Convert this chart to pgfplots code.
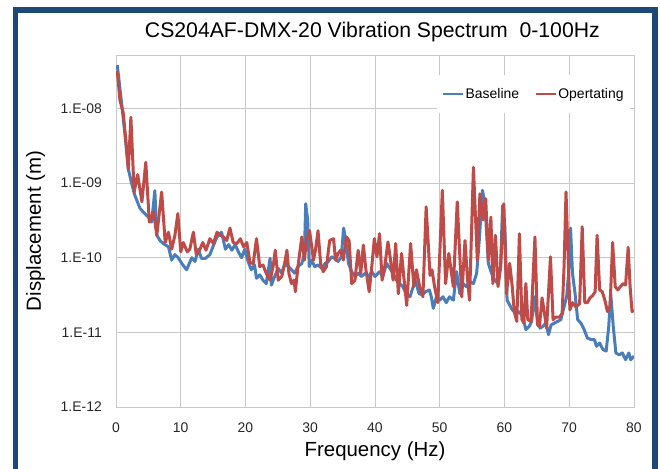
\documentclass[border=0pt]{standalone}
\usepackage{fontspec}
\setmainfont{Liberation Sans}
\usepackage{pgfplots}
\pgfplotsset{compat=1.18}

\definecolor{frameblue}{RGB}{27,72,118}
\definecolor{baseblue}{RGB}{74,126,187}
\definecolor{operred}{RGB}{190,75,72}
\definecolor{gridgray}{RGB}{200,200,200}

\begin{document}
\begin{tikzpicture}
  \useasboundingbox (0,0) rectangle (660bp,469bp);
  % dark blue frame, open at the bottom
  \draw[line width=5.5bp, color=frameblue] (15.5bp,-10bp) -- (15.5bp,459bp) -- (655bp,459bp) -- (655bp,-10bp);

  \begin{axis}[
      at={(116bp,62bp)}, anchor=south west,
      scale only axis, width=518bp, height=352bp,
      xmin=0, xmax=80, ymode=log, ymin=1e-12, ymax=5.2e-8,
      xtick={0,10,...,80},
      ytick={1e-12,1e-11,1e-10,1e-9,1e-8},
      yticklabels={1.E-12,1.E-11,1.E-10,1.E-09,1.E-08},
      yminorticks=false,
      /pgf/number format/assume math mode=true,
      major tick length=0pt, minor tick length=0pt,
      grid=major, major grid style={gridgray, line width=0.8bp},
      axis line style={gridgray, line width=0.8bp},
      tick label style={font=\fontsize{14}{16}\selectfont, color=black!85},
      xticklabel style={anchor=base, inner sep=0pt, yshift=-25bp},
      yticklabel style={anchor=east, inner sep=0pt, xshift=-14bp},
      title={CS204AF-DMX-20 Vibration Spectrum\ \ 0-100Hz},
      title style={at={(0.495,1)}, anchor=base, yshift=12bp, font=\fontsize{21.3}{24}\selectfont},
      xlabel={Frequency (Hz)},
      xlabel style={at={(axis description cs:0.5,-0.125)}, anchor=center, font=\fontsize{20.5}{24}\selectfont},
      ylabel={Displacement (m)},
      ylabel style={at={(axis description cs:-0.155,0.5)}, anchor=center, font=\fontsize{20.5}{24}\selectfont},
      legend style={at={(0.806,0.889)}, anchor=center, draw=none, fill=white,
        legend columns=2, font=\fontsize{14}{16}\selectfont,
        inner xsep=5bp, inner ysep=12bp, nodes={inner sep=1.5bp},
        /tikz/every even column/.append style={column sep=14bp}},
      legend image code/.code={\draw[#1, line width=2.2bp] (0bp,0bp) -- (20bp,0bp);},
      every axis plot/.append style={line width=3bp, line join=round},
    ]
    \addplot[baseblue] coordinates {
      (0.2,3.8e-8) (0.9,1.1e-8) (1.4,4.4e-9) (1.9,1.55e-9) (2.4,1.0e-9) (2.9,6.9e-10)
      (3.7,4.6e-10) (4.2,4.1e-10) (5.0,3.5e-10) (5.5,3.0e-10) (6.0,7.9e-10) (6.3,2.0e-10)
      (6.8,1.7e-10) (7.3,1.55e-10) (8.1,1.4e-10) (8.6,9.3e-11) (9.1,1.1e-10) (9.6,1.0e-10)
      (10.2,8.3e-11) (10.9,6.9e-11) (11.7,1.0e-10) (12.2,8.9e-11) (12.7,1.3e-10) (13.2,9.8e-11)
      (13.8,9.8e-11) (14.5,1.1e-10) (15.1,1.5e-10) (15.6,1.9e-10) (16.3,2.2e-10) (16.9,1.3e-10)
      (17.4,1.5e-10) (17.9,1.26e-10) (18.4,1.5e-10) (18.9,1.2e-10) (19.4,1.0e-10) (19.9,1.3e-10)
      (20.4,8.9e-11) (20.9,6.9e-11) (21.4,8.0e-11) (21.7,5.3e-11) (22.2,5.9e-11) (22.7,5.0e-11)
      (23.2,4.5e-11) (23.8,9.8e-11) (24.0,4.3e-11) (24.5,5.6e-11) (25.05,7.2e-11) (25.6,6.2e-11)
      (26.1,8.4e-11) (26.6,7.6e-11) (27.1,6.9e-11) (27.6,6.2e-11) (28.1,7.6e-11) (28.7,8.4e-11)
      (29.1,1.14e-10) (29.3,5.3e-10) (29.6,3.2e-10) (29.85,7.6e-11) (30.2,9.3e-11) (30.7,7.6e-11)
      (31.2,8.0e-11) (31.8,7.2e-11) (32.3,8.4e-11) (32.8,8.9e-11) (33.3,1.03e-10) (33.8,9.8e-11)
      (34.3,8.9e-11) (34.8,1.03e-10) (35.15,2.5e-10) (35.5,1.7e-10) (35.9,8.4e-11) (36.4,6.5e-11)
      (36.9,5.6e-11) (37.4,6.2e-11) (37.9,5.6e-11) (38.5,6.2e-11) (39.0,5.6e-11) (39.5,6.5e-11)
      (40.0,5.6e-11) (40.7,6.5e-11) (41.2,5.6e-11) (41.8,8.4e-11) (42.3,7.2e-11) (42.8,6.2e-11)
      (43.3,5.0e-11) (43.8,4.5e-11) (44.3,4.1e-11) (44.8,3.3e-11) (45.4,3.0e-11) (45.9,4.1e-11)
      (46.3,4.8e-11) (46.8,3.3e-11) (47.3,3.2e-11) (47.8,3.5e-11) (48.4,3.7e-11) (48.7,3.0e-11)
      (49.0,2.1e-11) (49.5,3.0e-11) (50.0,2.7e-11) (50.5,3.0e-11) (51.0,2.5e-11) (51.5,3.0e-11)
      (52.1,2.7e-11) (52.6,6.5e-11) (53.1,3.3e-11) (53.6,4.5e-11) (54.1,4.1e-11) (54.6,4.8e-11)
      (55.2,4.5e-11) (55.7,6.2e-11) (56.1,1.7e-10) (56.6,8.0e-10) (57.0,5.0e-10) (57.5,8.4e-11)
      (58.0,6.2e-11) (58.5,5.0e-11) (59.0,4.5e-11) (59.4,7.6e-11) (59.7,5.0e-10) (60.05,2.6e-10)
      (60.4,2.7e-11) (61.2,2.0e-11) (61.8,1.8e-11) (62.3,1.9e-11) (62.8,1.6e-11) (63.3,1.09e-11)
      (63.8,1.2e-11) (64.2,1.4e-11) (64.6,3.0e-11) (65.1,1.4e-11) (65.5,1.14e-11) (65.9,1.2e-11)
      (66.4,1.33e-11) (66.8,9.3e-12) (67.2,1.26e-11) (67.7,1.33e-11) (68.2,1.4e-11) (68.7,1.48e-11)
      (69.2,2.2e-11) (69.6,3.0e-11) (69.9,6.2e-11) (70.2,2.5e-10) (70.5,6.2e-11) (70.9,3.3e-11)
      (71.3,1.48e-11) (71.8,1.33e-11) (72.3,1.09e-11) (72.8,8.4e-12) (73.4,8.0e-12) (73.9,8.0e-12)
      (74.2,6.5e-12) (74.7,7.2e-12) (75.2,5.9e-12) (75.7,5.6e-12) (76.1,1.2e-11) (76.4,3.3e-11)
      (76.8,1.2e-11) (77.2,5.3e-12) (77.7,5.0e-12) (78.2,5.3e-12) (78.7,4.3e-12) (79.2,5.3e-12)
      (79.5,4.3e-12) (80.0,4.8e-12)
    };
    \addlegendentry{Baseline}
    \addplot[operred] coordinates {
      (0.2,3.2e-8) (0.6,1.3e-8) (1.1,8.9e-9) (1.55,3.5e-9) (1.9,1.55e-9) (2.3,7.6e-9)
      (2.8,7.6e-10) (3.35,1.3e-9) (4.0,5.6e-10) (4.6,1.9e-9) (5.15,3.0e-10) (5.8,4.1e-10)
      (6.3,2.0e-10) (7.05,7.6e-10) (7.6,1.6e-10) (8.1,2.2e-10) (8.6,1.3e-10) (9.1,2.0e-10)
      (9.55,3.9e-10) (10.0,1.2e-10) (10.4,1.6e-10) (11.0,1.2e-10) (11.4,1.3e-10) (11.95,2.2e-10)
      (12.4,1.1e-10) (12.9,1.26e-10) (13.4,1.6e-10) (13.9,1.26e-10) (14.5,1.8e-10) (15.05,1.55e-10)
      (15.6,2.2e-10) (16.1,2.0e-10) (16.6,1.9e-10) (17.1,1.7e-10) (17.6,2.5e-10) (18.1,1.6e-10)
      (18.7,1.55e-10) (19.2,1.8e-10) (19.7,1.4e-10) (20.2,1.6e-10) (20.7,8.5e-11) (21.2,8.4e-11)
      (21.7,1.8e-10) (22.2,7.6e-11) (22.7,8.0e-11) (23.2,6.2e-11) (23.8,5.0e-11) (24.3,8.0e-11)
      (24.6,1.26e-10) (25.05,5.0e-11) (25.6,5.6e-11) (26.0,8.0e-11) (26.4,1.26e-10) (26.7,6.2e-11)
      (27.1,4.5e-11) (27.5,5.0e-11) (27.7,3.5e-11) (28.1,7.6e-11) (28.7,1.9e-10) (29.1,9.3e-11)
      (29.4,1.7e-10) (29.9,2.3e-10) (30.5,9.3e-11) (30.8,1.26e-10) (31.2,2.3e-10) (31.6,8.4e-11)
      (32.0,6.5e-11) (32.5,7.6e-11) (33.0,1.7e-10) (33.6,1.8e-10) (33.9,9.3e-11) (34.3,1.14e-10)
      (34.7,1.26e-10) (35.1,9.3e-11) (35.6,1.9e-10) (36.0,1.7e-10) (36.4,4.5e-11) (36.9,5.0e-11)
      (37.4,1.26e-10) (37.8,6.2e-11) (38.2,1.48e-10) (38.6,6.9e-11) (39.1,3.5e-11) (39.5,7.6e-11)
      (39.9,1.8e-10) (40.3,1.03e-10) (40.7,2.1e-10) (41.1,5.0e-11) (41.5,7.6e-11) (42.0,1.63e-10)
      (42.4,9.3e-11) (42.8,5.0e-11) (43.2,1.55e-10) (43.6,3.3e-11) (44.1,1.14e-10) (44.5,5.0e-11)
      (44.9,2.3e-11) (45.5,1.55e-10) (46.0,4.1e-11) (46.4,6.9e-11) (46.9,4.1e-11) (47.4,3.0e-11)
      (47.9,4.8e-10) (48.5,5.8e-11) (48.8,6.9e-11) (49.2,4.1e-11) (49.7,2.5e-11) (50.4,8.0e-10)
      (50.9,4.5e-11) (51.4,1.14e-10) (52.1,4.1e-11) (52.7,5.6e-10) (53.4,3.0e-11) (53.9,1.7e-10)
      (54.3,5.0e-11) (54.6,2.7e-11) (55.2,1.63e-9) (55.8,9.3e-11) (56.2,7.2e-10) (56.7,3.2e-10)
      (57.1,6.2e-10) (57.5,9.3e-11) (57.9,3.5e-10) (58.2,4.5e-11) (58.6,2.0e-10) (59.0,4.1e-11)
      (59.4,7.6e-11) (59.9,5.3e-10) (60.3,3.3e-11) (60.8,8.4e-11) (61.2,4.1e-11) (61.5,1.9e-11)
      (61.9,1.4e-11) (62.3,2.1e-10) (62.7,1.48e-11) (63.0,1.33e-11) (63.3,4.5e-11) (63.6,1.48e-11)
      (64.1,1.4e-11) (64.7,1.9e-10) (65.1,1.26e-11) (65.4,1.2e-11) (65.8,2.9e-11) (66.1,2.0e-11)
      (66.5,1.14e-11) (67.1,1.03e-10) (67.5,1.48e-11) (67.9,1.6e-11) (68.5,1.6e-11) (68.9,1.8e-11)
      (69.2,7.6e-11) (69.5,7.6e-10) (69.8,1.26e-10) (70.1,2.0e-11) (70.5,2.5e-11) (71.0,2.2e-11)
      (71.6,2.4e-11) (72.0,2.6e-10) (72.4,2.5e-11) (72.8,2.5e-11) (73.2,2.9e-11) (73.6,3.1e-11)
      (74.0,3.5e-11) (74.3,2.0e-10) (74.7,3.7e-11) (75.1,3.5e-11) (75.5,2.7e-11) (75.9,1.9e-11)
      (76.3,2.2e-11) (76.7,1.6e-10) (77.1,4.1e-11) (77.5,3.7e-11) (77.9,4.1e-11) (78.3,4.5e-11)
      (78.7,4.3e-11) (79.1,1.38e-10) (79.4,4.1e-11) (79.7,1.9e-11) (80.0,2.0e-11)
    };
    \addlegendentry{Opertating}
  \end{axis}
\end{tikzpicture}
\end{document}
